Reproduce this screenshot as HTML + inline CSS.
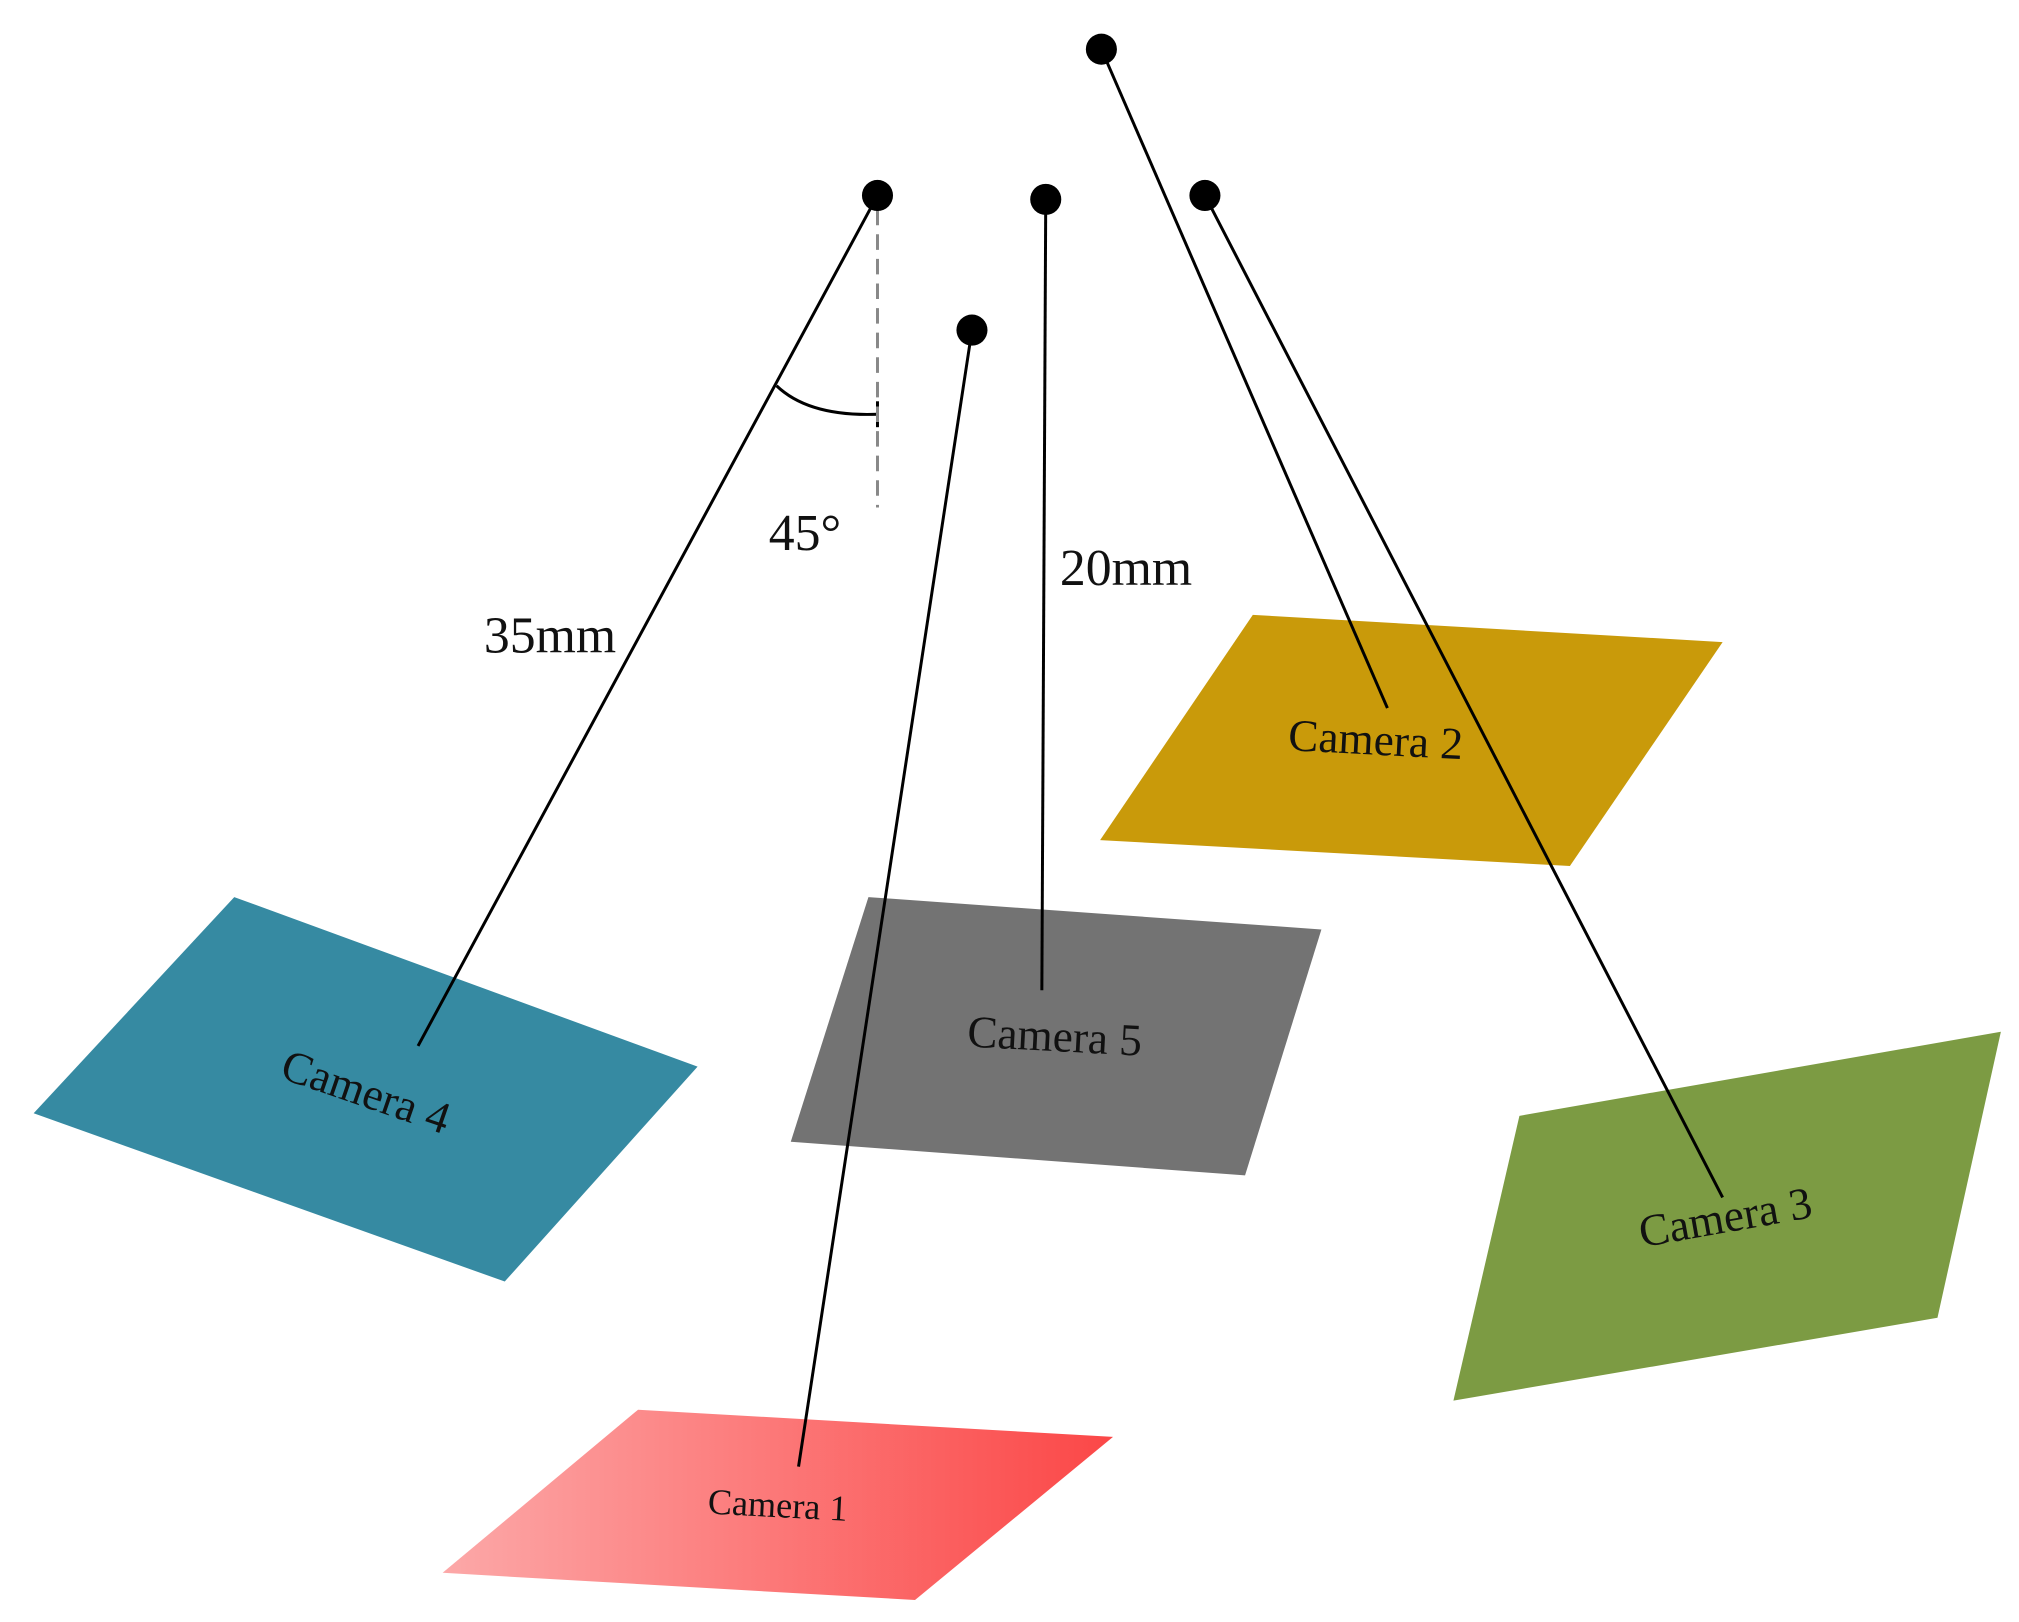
<!DOCTYPE html>
<html><head><meta charset="utf-8"><style>
html,body{margin:0;padding:0;background:#fff;}
svg{display:block;}
text{font-family:"Liberation Serif",serif;fill:#111;}
</style></head><body>
<svg width="2019" height="1622" viewBox="0 0 1560 1253" preserveAspectRatio="none" xmlns="http://www.w3.org/2000/svg">
<defs>
<linearGradient id="rg" x1="0" y1="0" x2="1" y2="0">
<stop offset="0" stop-color="#fca8a8"/><stop offset="1" stop-color="#fb4747"/>
</linearGradient>
</defs>
<polygon points="968,475 1331,496 1213,669 850,649" fill="#c99a0a"/>
<polygon points="671,693 1021,718 962,908 611,882" fill="#737373"/>
<polygon points="181,693 539,824 390,990 26,860" fill="#368aa2"/>
<polygon points="1546,797 1497,1018 1123,1082 1174,862" fill="#7c9b43"/>
<polygon points="493,1089 860,1110 707,1236 342,1215" fill="url(#rg)"/>
<g stroke="#000" stroke-width="2.3" fill="none">
<line x1="851" y1="38" x2="1072" y2="547"/>
<line x1="931" y1="151" x2="1331" y2="925"/>
<line x1="678" y1="151" x2="323" y2="808"/>
<line x1="808" y1="154" x2="805" y2="765"/>
<line x1="751" y1="255" x2="617" y2="1133"/>
<path d="M600,298 Q625,322 678,320"/>
<line x1="678" y1="310" x2="678" y2="330"/>
</g>
<line x1="678" y1="162" x2="678" y2="392" stroke="#888" stroke-width="2.3" stroke-dasharray="12,7"/>
<g fill="#000">
<ellipse cx="851" cy="38" rx="12" ry="12"/>
<ellipse cx="678" cy="151" rx="12" ry="12"/>
<ellipse cx="808" cy="154" rx="12" ry="12"/>
<ellipse cx="931" cy="151" rx="12" ry="12"/>
<ellipse cx="751" cy="255" rx="12" ry="12"/>
</g>
<text x="622" y="425" font-size="40" text-anchor="middle">45°</text>
<text x="425" y="504" font-size="40" text-anchor="middle">35mm</text>
<text x="870" y="452" font-size="40" text-anchor="middle">20mm</text>
<text x="1063" y="583" font-size="35" text-anchor="middle" transform="rotate(3 1063 571)">Camera 2</text>
<text x="815" y="812" font-size="35" text-anchor="middle" transform="rotate(3 815 800)">Camera 5</text>
<text x="283" y="855" font-size="35" text-anchor="middle" transform="rotate(19 283 843)">Camera 4</text>
<text x="1333" y="952" font-size="35" text-anchor="middle" transform="rotate(-10 1333 940)">Camera 3</text>
<text x="601" y="1172" font-size="28" text-anchor="middle" transform="rotate(3 601 1162)">Camera 1</text>
</svg>
</body></html>
